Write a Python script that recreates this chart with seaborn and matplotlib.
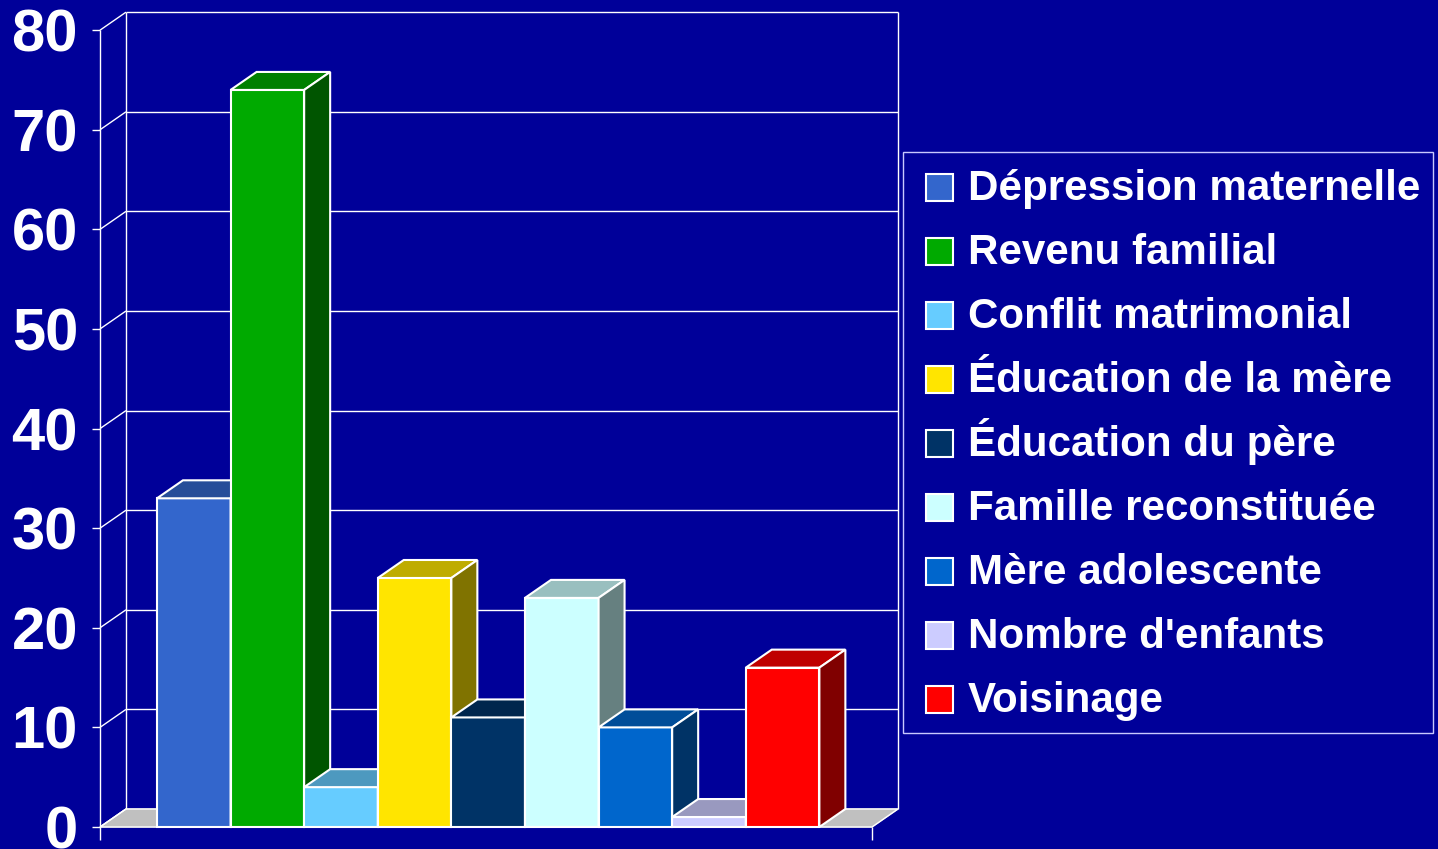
import pandas as pd
import matplotlib.pyplot as plt
from matplotlib.patches import Rectangle
import seaborn as sns

categories = ["Dépression maternelle", "Revenu familial", "Conflit matrimonial",
              "Éducation de la mère", "Éducation du père", "Famille reconstituée",
              "Mère adolescente", "Nombre d'enfants", "Voisinage"]
values = [33, 74, 4, 25, 11, 23, 10, 1, 16]
front_colors = ["#3366CC", "#00AA00", "#66CCFF", "#FFE500", "#003366",
                "#CCFFFF", "#0066CC", "#CCCCFF", "#FF0000"]
y_ticks = [0, 10, 20, 30, 40, 50, 60, 70, 80]

BG = "#000099"
W, H = 1438, 849
DX, DY = 0.353, 1.807  # depth offset of the pseudo-3D look
X0, X1 = -1.274, 9.568


def shade(hex_color, f):
    hex_color = hex_color.lstrip("#")
    r, g, b = (int(hex_color[i:i + 2], 16) for i in (0, 2, 4))
    return (r * f / 255, g * f / 255, b * f / 255)


sns.set_style("white")
plt.rcParams["font.family"] = ["Liberation Sans", "DejaVu Sans"]

df = pd.DataFrame({"facteur": categories, "valeur": values})

fig = plt.figure(figsize=(W / 100, H / 100), dpi=100, facecolor=BG)
ax = fig.add_axes([100 / W, 0, 798 / W, 1])
ax.set_facecolor("none")

sns.barplot(data=df, x="facteur", y="valeur", hue="facteur", palette=front_colors,
            saturation=1, width=1, edgecolor="white", linewidth=1.5, legend=False, ax=ax)

ax.set_xlim(X0, X1)
ax.set_ylim(-2.21, 83.03)
for s in ax.spines.values():
    s.set_visible(False)

# walls and floor
line_kw = dict(color="white", lw=1.0, zorder=0.6, solid_capstyle="butt", clip_on=False)
xf = X1 - DX
ax.fill([X0, xf, X1, X0 + DX], [0, 0, DY, DY], color="#C0C0C0", zorder=0.5)
ax.plot([X0, xf, X1, X0 + DX, X0], [0, 0, DY, DY, 0], **line_kw)
ax.plot([X0, X0], [0, 80], **line_kw)
ax.plot([X0 + DX, X0 + DX], [DY, 80 + DY], **line_kw)
ax.plot([X1, X1], [DY, 80 + DY], **line_kw)
for t in y_ticks:
    ax.plot([X0, X0 + DX], [t, t + DY], **line_kw)
    if t > 0:
        ax.plot([X0 + DX, X1], [t + DY, t + DY], **line_kw)
ax.plot([X0, X0], [0, -1.3], **line_kw)
ax.plot([xf, xf], [0, -1.3], **line_kw)

# 3D top and side faces for each bar
for i, (p, c) in enumerate(zip(ax.patches, front_colors)):
    l, w, h = p.get_x(), p.get_width(), p.get_height()
    r = l + w
    z = 2 + i
    p.set_zorder(z)
    ax.fill([l, r, r + DX, l + DX], [h, h, h + DY, h + DY], facecolor=shade(c, 0.75),
            edgecolor="white", lw=1.5, zorder=z)
    ax.fill([r, r + DX, r + DX, r], [0, DY, h + DY, h], facecolor=shade(c, 0.5),
            edgecolor="white", lw=1.5, zorder=z)

ax.set_yticks(y_ticks)
ax.set_yticklabels([str(t) for t in y_ticks])
ax.tick_params(axis="y", colors="white", labelsize=43, length=5.8, width=1, pad=10, left=True)
for lab in ax.get_yticklabels():
    lab.set_fontweight("bold")
ax.set_xticks([])
ax.set_xlabel("")
ax.set_ylabel("")

# legend box (rows evenly spaced like the original)
fig.add_artist(Rectangle((903 / W, 1 - 733 / H), 530 / W, 581 / H, transform=fig.transFigure,
                         facecolor=BG, edgecolor="#C8C8FF", lw=1.0))
for i, (lab, c) in enumerate(zip(categories, front_colors)):
    top = 174 + 64 * i
    fig.add_artist(Rectangle((926 / W, 1 - (top + 27) / H), 27 / W, 27 / H,
                             transform=fig.transFigure, facecolor=c,
                             edgecolor="white", lw=1.5))
    fig.text(968 / W, 1 - (top + 26) / H, lab, color="white", fontsize=30.3,
             fontweight="bold", va="baseline", ha="left")

fig.savefig("out.png", dpi=100, facecolor=BG)
